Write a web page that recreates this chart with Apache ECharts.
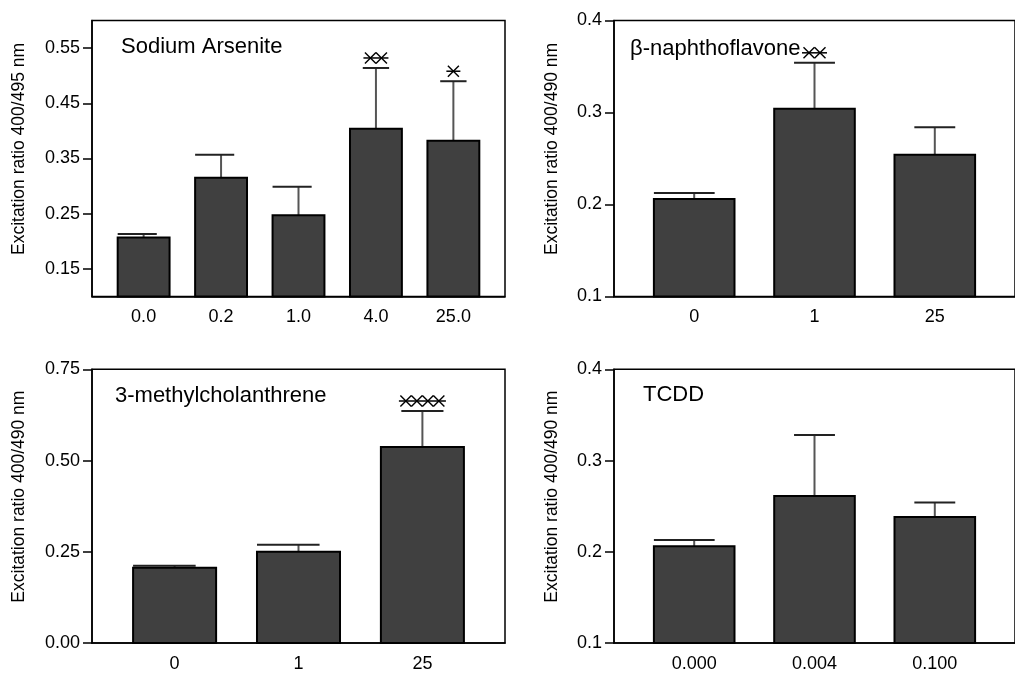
<!DOCTYPE html>
<html>
<head>
<meta charset="utf-8">
<script src="https://cdn.jsdelivr.net/npm/echarts@6/dist/echarts.min.js"></script>
<style>
  html, body { margin: 0; padding: 0; background: #fff; }
  #chart { width: 1015px; height: 673px; }
</style>
</head>
<body>
<div id="chart"></div>
<script>
// Sodium Arsenite
const arsDose = ['0.0', '0.2', '1.0', '4.0', '25.0']
const arsMean = [0.207, 0.315, 0.247, 0.404, 0.382]
const arsErr = [0.006, 0.042, 0.052, 0.110, 0.108]
const arsStars = [0, 0, 0, 2, 1]
const arsTicks = [0.15, 0.25, 0.35, 0.45, 0.55]

// beta-naphthoflavone
const bnfDose = ['0', '1', '25']
const bnfMean = [0.206, 0.304, 0.254]
const bnfErr = [0.0065, 0.050, 0.030]
const bnfStars = [0, 2, 0]
const bnfTicks = [0.1, 0.2, 0.3, 0.4]

// 3-methylcholanthrene
const mcDose = ['0', '1', '25']
const mcMean = [0.206, 0.250, 0.537]
const mcErr = [0.006, 0.019, 0.099]
const mcStars = [0, 0, 4]
const mcTicks = [0, 0.25, 0.5, 0.75]

// TCDD
const tcddDose = ['0.000', '0.004', '0.100']
const tcddMean = [0.206, 0.261, 0.238]
const tcddErr = [0.007, 0.067, 0.016]
const tcddStars = [0, 0, 0]
const tcddTicks = [0.1, 0.2, 0.3, 0.4]

const FONT = '"Liberation Sans", Arial, sans-serif'

const panels = [
  { title: 'Sodium Arsenite', dose: arsDose, mean: arsMean, err: arsErr, stars: arsStars, ticks: arsTicks,
    yMin: 0.1, yMax: 0.6, digits: 2, yName: 'Excitation ratio 400/495 nm',
    left: 92, top: 20.5, nameGap: 64, titleLeft: 121, titleTop: 36, wideCaps: 3 },
  { title: 'β-naphthoflavone', dose: bnfDose, mean: bnfMean, err: bnfErr, stars: bnfStars, ticks: bnfTicks,
    yMin: 0.1, yMax: 0.4, digits: 1, yName: 'Excitation ratio 400/490 nm',
    left: 614, top: 20.5, nameGap: 53, titleLeft: 630, titleTop: 38, wideCaps: 1 },
  { title: '3-methylcholanthrene', dose: mcDose, mean: mcMean, err: mcErr, stars: mcStars, ticks: mcTicks,
    yMin: 0, yMax: 0.75, digits: 2, yName: 'Excitation ratio 400/490 nm',
    left: 92, top: 369.3, nameGap: 64, titleLeft: 115, titleTop: 385, wideCaps: 2 },
  { title: 'TCDD', dose: tcddDose, mean: tcddMean, err: tcddErr, stars: tcddStars, ticks: tcddTicks,
    yMin: 0.1, yMax: 0.4, digits: 1, yName: 'Excitation ratio 400/490 nm',
    left: 614, top: 369.3, nameGap: 53, titleLeft: 643, titleTop: 384, wideCaps: 1 }
]

// bar + error bar + significance stars
function makeRender(yMin, wideCaps) {
  return function (params, api) {
    const i = api.value(0)
    const m = api.value(1)
    const e = api.value(2)
    const s = api.value(3)
    const tl = api.coord([i - 0.335, m])
    const br = api.coord([i + 0.335, yMin])
    const mid = api.coord([i, m])
    const top = api.coord([i, m + e])
    const capR = api.coord([i + 0.17, m + e])
    const capL = api.coord([i < wideCaps ? i - 0.335 : i - 0.17, m + e])
    const children = [
      { type: 'line', shape: { x1: mid[0], y1: mid[1], x2: top[0], y2: top[1] }, style: { stroke: '#555', lineWidth: 2 } },
      { type: 'line', shape: { x1: capL[0], y1: top[1], x2: capR[0], y2: top[1] }, style: { stroke: '#222', lineWidth: 2 } },
      { type: 'rect', shape: { x: tl[0], y: tl[1], width: br[0] - tl[0], height: br[1] - tl[1] },
        style: { fill: '#404040', stroke: '#000', lineWidth: 2 } }
    ]
    if (s > 0) {
      const cy = top[1] - 10
      const step = 11
      const h = 5.5
      const x0 = top[0] - (s - 1) * step / 2
      children.push({ type: 'line', shape: { x1: x0 - 7, y1: cy, x2: x0 + (s - 1) * step + 7, y2: cy },
        style: { stroke: '#000', lineWidth: 1.5 } })
      for (let k = 0; k < s; k++) {
        const cx = x0 + k * step
        children.push({ type: 'line', shape: { x1: cx - h, y1: cy - h, x2: cx + h, y2: cy + h }, style: { stroke: '#000', lineWidth: 1.4 } })
        children.push({ type: 'line', shape: { x1: cx - h, y1: cy + h, x2: cx + h, y2: cy - h }, style: { stroke: '#000', lineWidth: 1.4 } })
      }
    }
    return { type: 'group', children: children }
  }
}

const option = { animation: false, backgroundColor: '#fff', title: [], grid: [], xAxis: [], yAxis: [], series: [] }

panels.forEach(function (p, idx) {
  const n = p.dose.length
  option.title.push({
    text: p.title, left: p.titleLeft, top: p.titleTop, padding: 0,
    textStyle: { fontSize: 22, fontWeight: 'normal', color: '#000', fontFamily: FONT }
  })
  option.grid.push({
    left: p.left, top: p.top, width: 413, height: 276,
    show: true, borderColor: '#000', borderWidth: 1.5, backgroundColor: 'transparent'
  })
  option.xAxis.push({
    type: 'value', gridIndex: idx, min: -2 / 3, max: n - 1 + 2 / 3,
    axisLine: { show: true, onZero: false, lineStyle: { color: '#000', width: 1.5 } },
    axisTick: { show: false },
    splitLine: { show: false },
    axisLabel: {
      customValues: p.dose.map(function (d, i) { return i }),
      formatter: function (v) { return p.dose[Math.round(v)] },
      margin: 12, fontSize: 18, color: '#000', fontFamily: FONT
    }
  })
  option.yAxis.push({
    type: 'value', gridIndex: idx, min: p.yMin, max: p.yMax,
    name: p.yName, nameLocation: 'middle', nameGap: p.nameGap,
    nameTextStyle: { fontSize: 17.5, color: '#000', fontFamily: FONT, padding: [0, 0, 0, 19] },
    axisLine: { show: true, onZero: false, lineStyle: { color: '#000', width: 1.5 } },
    axisTick: { show: true, customValues: p.ticks, length: 9, lineStyle: { color: '#000', width: 1.5 } },
    splitLine: { show: false },
    axisLabel: {
      customValues: p.ticks,
      formatter: function (v) { return v.toFixed(p.digits) },
      margin: 12, fontSize: 18, color: '#000', fontFamily: FONT
    }
  })
  option.series.push({
    type: 'custom', xAxisIndex: idx, yAxisIndex: idx,
    renderItem: makeRender(p.yMin, p.wideCaps),
    data: p.mean.map(function (m, i) { return [i, m, p.err[i], p.stars[i]] })
  })
})

const chart = echarts.init(document.getElementById('chart'))
chart.setOption(option)
</script>
</body>
</html>
